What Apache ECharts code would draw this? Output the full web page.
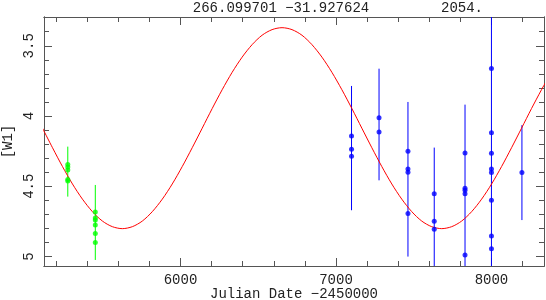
<!DOCTYPE html>
<html>
<head>
<meta charset="utf-8">
<script src="https://cdn.jsdelivr.net/npm/echarts@6/dist/echarts.min.js"></script>
<style>html,body{margin:0;padding:0;background:#fff}#c{width:546px;height:300px}</style>
</head>
<body>
<div id="c"></div>
<script>
// ---- data ----
const headerLeft = '266.099701 \u221231.927624';
const headerRight = '2054.';
const xName = 'Julian Date \u22122450000';
const yName = '[W1]';

const xMin = 5122, xMax = 8338;
const yMin = 3.295, yMax = 5.068;
const xMajor = [6000, 7000, 8000];
const xMinor = [5200, 5400, 5600, 5800, 6000, 6200, 6400, 6600, 6800, 7000, 7200, 7400, 7600, 7800, 8000, 8200];
const yMajor = [3.5, 4, 4.5, 5];
const yMinor = [3.3, 3.4, 3.5, 3.6, 3.7, 3.8, 3.9, 4.0, 4.1, 4.2, 4.3, 4.4, 4.5, 4.6, 4.7, 4.8, 4.9, 5.0];

// model curve (red)
const curveJD = [5112.5, 5176.7, 5240.9, 5305.1, 5369.3, 5433.4, 5497.6, 5561.8, 5626.0, 5690.2,
  5754.4, 5818.6, 5882.8, 5946.9, 6011.1, 6075.3, 6139.5, 6203.7, 6267.9, 6332.1,
  6396.3, 6460.4, 6524.6, 6588.8, 6653.0, 6717.2, 6781.4, 6845.6, 6909.8, 6973.9,
  7038.1, 7102.3, 7166.5, 7230.7, 7294.9, 7359.1, 7423.3, 7487.4, 7551.6, 7615.8,
  7680.0, 7744.2, 7808.4, 7872.6, 7936.8, 8000.9, 8065.1, 8129.3, 8193.5, 8257.7,
  8321.9, 8386.1, 8450.3];
const curveMag = [4.087, 4.226, 4.360, 4.484, 4.592, 4.681, 4.748, 4.788, 4.802, 4.788,
  4.748, 4.681, 4.592, 4.484, 4.360, 4.226, 4.087, 3.947, 3.813, 3.689,
  3.581, 3.492, 3.425, 3.385, 3.371, 3.385, 3.425, 3.492, 3.581, 3.689,
  3.813, 3.947, 4.087, 4.226, 4.360, 4.484, 4.592, 4.681, 4.748, 4.788,
  4.802, 4.788, 4.748, 4.681, 4.592, 4.484, 4.360, 4.226, 4.087, 3.947,
  3.813, 3.689, 3.581];

// WISE (green)
const greenJD  = [5275, 5275, 5275, 5275, 5275, 5452, 5452, 5452, 5452, 5452, 5452];
const greenMag = [4.345, 4.363, 4.384, 4.452, 4.462, 4.683, 4.726, 4.740, 4.776, 4.837, 4.901];
const greenErr = [0.127, 0.13, 0.13, 0.12, 0.112, 0.192, 0.18, 0.17, 0.16, 0.15, 0.124];

// NEOWISE (blue)
const blueJD  = [7100, 7100, 7100, 7277, 7277, 7463, 7463, 7463, 7463, 7632, 7632, 7632, 7830, 7830, 7830, 7830, 7830, 8000, 8000, 8000, 8000, 8000, 8000, 8000, 8000, 8196];
const blueMag = [4.142, 4.237, 4.286, 4.012, 4.114, 4.251, 4.377, 4.400, 4.695, 4.553, 4.749, 4.806, 4.263, 4.514, 4.528, 4.553, 4.989, 3.662, 4.119, 4.265, 4.378, 4.402, 4.600, 4.854, 4.946, 4.403];
const blueErr = [0.356, 0.434, 0.385, 0.349, 0.344, 0.351, 0.347, 0.35, 0.306, 0.328, 0.293, 0.30, 0.344, 0.336, 0.34, 0.35, 0.35, 0.46, 0.45, 0.45, 0.45, 0.45, 0.45, 0.45, 0.45, 0.338];

// ---- chart ----
const FONT = 'Liberation Mono';
const AX = '#555';
const TXT = '#222';

const curve = curveJD.map((x, i) => [x, curveMag[i]]);

// merge the error bars of points sharing one epoch into a single vertical segment
function mergeBars(xs, ys, es) {
  const m = new Map();
  xs.forEach((x, i) => {
    const lo = ys[i] - es[i], hi = ys[i] + es[i];
    if (!m.has(x)) m.set(x, [x, lo, hi]);
    else { const b = m.get(x); b[1] = Math.min(b[1], lo); b[2] = Math.max(b[2], hi); }
  });
  return Array.from(m.values());
}
const greenBars = mergeBars(greenJD, greenMag, greenErr);
const blueBars = mergeBars(blueJD, blueMag, blueErr);

function errBar(color) {
  return function (params, api) {
    const x = api.value(0);
    const p1 = api.coord([x, api.value(1)]);
    const p2 = api.coord([x, api.value(2)]);
    return {
      type: 'line',
      shape: { x1: p1[0], y1: p1[1], x2: p2[0], y2: p2[1] },
      style: { stroke: color, lineWidth: 1 }
    };
  };
}

const fmt = v => String(v);

function xAx(pos, ticks, len, labels, extra) {
  return Object.assign({
    type: 'value', min: xMin, max: xMax, position: pos,
    axisLine: { show: true, onZero: false, lineStyle: { color: AX, width: 1 } },
    axisTick: { show: true, inside: true, length: len, customValues: ticks, lineStyle: { color: AX } },
    axisLabel: labels ? { show: true, customValues: xMajor, formatter: fmt, fontFamily: FONT, fontSize: 14, color: TXT, margin: 7 } : { show: false },
    splitLine: { show: false }
  }, extra || {});
}
function yAx(pos, ticks, len, labels, extra) {
  return Object.assign({
    type: 'value', min: yMin, max: yMax, inverse: true, position: pos,
    axisLine: { show: true, onZero: false, lineStyle: { color: AX, width: 1 } },
    axisTick: { show: true, inside: true, length: len, customValues: ticks, lineStyle: { color: AX } },
    axisLabel: labels ? { show: true, customValues: yMajor, formatter: fmt, rotate: 90, fontFamily: FONT, fontSize: 14, color: TXT, margin: 8 } : { show: false },
    splitLine: { show: false }
  }, extra || {});
}

const chart = echarts.init(document.getElementById('c'), null, { renderer: 'canvas' });
chart.setOption({
  animation: false,
  backgroundColor: '#fff',
  grid: { left: 44, top: 17, width: 500, height: 249, containLabel: false, outerBoundsMode: 'none' },
  xAxis: [
    xAx('bottom', xMajor, 8, true, {
      name: xName, nameLocation: 'middle', nameGap: 21, nameMoveOverlap: false,
      nameTextStyle: { fontFamily: FONT, fontSize: 14, color: TXT }
    }),
    xAx('bottom', xMinor, 5, false),
    xAx('top', xMajor, 8, false),
    xAx('top', xMinor, 5, false)
  ],
  yAxis: [
    yAx('left', yMajor, 8, true, {
      name: yName, nameLocation: 'middle', nameGap: 29, nameRotate: 90, nameMoveOverlap: false,
      nameTextStyle: { fontFamily: FONT, fontSize: 14, color: TXT }
    }),
    yAx('left', yMinor, 5, false),
    yAx('right', yMajor, 8, false),
    yAx('right', yMinor, 5, false)
  ],
  graphic: [
    { type: 'text', x: 281, y: 8, style: { text: headerLeft, font: '14px "' + FONT + '"', fill: TXT, align: 'center', verticalAlign: 'middle' } },
    { type: 'text', x: 462, y: 8, style: { text: headerRight, font: '14px "' + FONT + '"', fill: TXT, align: 'center', verticalAlign: 'middle' } }
  ],
  series: [
    { type: 'custom', name: 'greenErr', data: greenBars, renderItem: errBar('#00ff00'), clip: true, z: 1, encode: { x: 0, y: [1, 2] } },
    { type: 'custom', name: 'blueErr', data: blueBars, renderItem: errBar('#0000ff'), clip: true, z: 1, encode: { x: 0, y: [1, 2] } },
    { type: 'line', name: 'model', data: curve, smooth: 0.3, showSymbol: false, clip: true, z: 2,
      lineStyle: { color: '#ff0000', width: 1 } },
    { type: 'scatter', name: 'WISE', data: greenJD.map((x, i) => [x, greenMag[i]]), symbol: 'circle', symbolSize: 5, z: 3,
      itemStyle: { color: '#00ff00' } },
    { type: 'scatter', name: 'NEOWISE', data: blueJD.map((x, i) => [x, blueMag[i]]), symbol: 'circle', symbolSize: 5, z: 3,
      itemStyle: { color: '#0000ff' } }
  ]
});
</script>
</body>
</html>
